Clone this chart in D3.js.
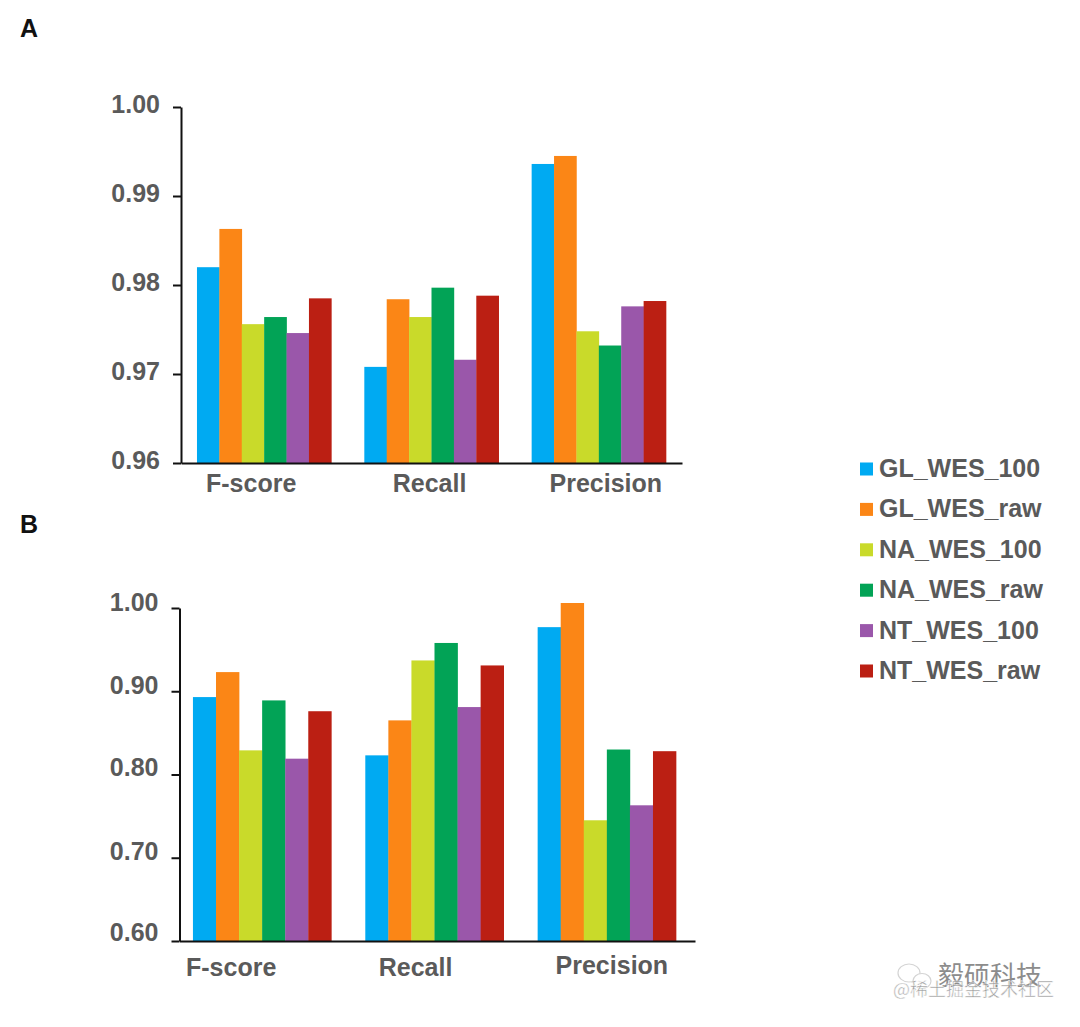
<!DOCTYPE html>
<html>
<head>
<meta charset="utf-8">
<script src="https://cdn.jsdelivr.net/npm/d3@7"></script>
<style>
html, body { margin: 0; padding: 0; background: #fff; }
svg { display: block; }
text { font-family: "Liberation Sans", Arial, sans-serif; font-weight: bold; }
</style>
</head>
<body>
<div id="chart"></div>
<script>
const categories = ['F-score', 'Recall', 'Precision'];
const seriesNames = ['GL_WES_100', 'GL_WES_raw', 'NA_WES_100', 'NA_WES_raw', 'NT_WES_100', 'NT_WES_raw'];
const seriesColors = ['#00aaf2', '#fb8616', '#c9da2a', '#02a356', '#9a57aa', '#bb1f13'];

const ticksA = [0.96, 0.97, 0.98, 0.99, 1.00];
const ticksB = [0.60, 0.70, 0.80, 0.90, 1.00];

const fscoreA = [0.9820, 0.9863, 0.9756, 0.9764, 0.9746, 0.9785];
const recallA = [0.9708, 0.9784, 0.9764, 0.9797, 0.9716, 0.9788];
const precisionA = [0.9936, 0.9945, 0.9748, 0.9732, 0.9776, 0.9782];

const fscoreB = [0.893, 0.923, 0.829, 0.889, 0.819, 0.876];
const recallB = [0.823, 0.865, 0.937, 0.958, 0.881, 0.931];
const precisionB = [0.977, 1.006, 0.745, 0.830, 0.763, 0.828];

const textColor = '#5a5a5a';
const svg = d3.select('#chart').append('svg')
	.attr('width', 1080)
	.attr('height', 1027);

function drawPanel(opt) {
	let g = svg.append('g').attr('class', 'panel');
	let y = d3.scaleLinear().domain(opt.domain).range([opt.bottom, opt.top]);
	let x = d3.scaleBand().domain(categories)
		.range([opt.left, opt.right])
		.paddingInner(0.197)
		.paddingOuter(opt.outer)
		.align(opt.align);
	let x1 = d3.scaleBand().domain(seriesNames).range([0, x.bandwidth()]);

	let groups = g.append('g').attr('class', 'bars')
		.selectAll('g')
		.data(categories)
		.enter().append('g')
		.attr('transform', d => `translate(${x(d)}, 0)`);

	groups.selectAll('rect')
		.data((d, i) => opt.values[i].map((v, j) => ({name: seriesNames[j], value: v})))
		.enter().append('rect')
		.attr('x', d => x1(d.name))
		.attr('y', d => y(d.value))
		.attr('width', x1.bandwidth() + 0.3)
		.attr('height', d => y(opt.domain[0]) - y(d.value))
		.style('fill', d => seriesColors[seriesNames.indexOf(d.name)]);

	let yAxis = g.append('g')
		.attr('class', 'axis y--axis')
		.attr('transform', `translate(${opt.left}, 0)`)
		.call(d3.axisLeft(y).tickValues(opt.ticks).tickFormat(d3.format('.2f')).tickSize(8).tickSizeOuter(0).tickPadding(13));
	yAxis.selectAll('path, line').style('stroke', '#111').style('stroke-width', '2px');
	yAxis.selectAll('text')
		.attr('dy', (d, i) => opt.tickDy[i])
		.style('font-size', '25px')
		.style('fill', textColor);

	let xAxis = g.append('g')
		.attr('class', 'axis x--axis')
		.attr('transform', `translate(0, ${opt.bottom})`)
		.call(d3.axisBottom(x).tickSize(0).tickSizeOuter(0));
	xAxis.select('path').style('stroke', '#111').style('stroke-width', '2px');
	xAxis.selectAll('text')
		.attr('x', (d, i) => opt.labelDx[i])
		.attr('y', (d, i) => opt.labelY[i])
		.attr('dy', 0)
		.style('font-size', '25px')
		.style('fill', textColor);

	svg.append('text')
		.attr('x', 20)
		.attr('y', opt.letterY)
		.text(opt.letter)
		.style('font-size', '25px')
		.style('fill', '#111');
}

drawPanel({
	letter: 'A', letterY: 37,
	domain: [0.96, 1.00], ticks: ticksA,
	values: [fscoreA, recallA, precisionA],
	left: 181, right: 682, top: 107, bottom: 463,
	outer: 0.0955, align: 0.5,
	tickDy: [5, 5, 5, 5, 5],
	labelDx: [-13, -2, 7], labelY: [29, 29, 29]
});

drawPanel({
	letter: 'B', letterY: 533,
	domain: [0.60, 1.00], ticks: ticksB,
	values: [fscoreB, recallB, precisionB],
	left: 179.5, right: 695, top: 608, bottom: 941,
	outer: 0.094, align: 0.415,
	tickDy: [-1, 2, 1, 2, 2],
	labelDx: [-31, -19, 5], labelY: [35, 35, 33]
});

// legend
let legendY = d3.scalePoint().domain(seriesNames).range([469, 671]);
let legend = svg.append('g').attr('class', 'legend')
	.selectAll('g')
	.data(seriesNames)
	.enter().append('g')
	.attr('transform', d => `translate(860, ${legendY(d)})`);
legend.append('rect')
	.attr('y', -6.5)
	.attr('width', 13)
	.attr('height', 13)
	.style('fill', (d, i) => seriesColors[i]);
legend.append('text')
	.attr('x', 19)
	.attr('y', 8)
	.text(d => d)
	.style('font-size', '25px')
	.style('fill', textColor);

// watermark
let mark = svg.append('g').attr('class', 'watermark');
mark.append('ellipse').attr('cx', 909).attr('cy', 973).attr('rx', 11).attr('ry', 9)
	.style('fill', 'none').style('stroke', '#d4d4d4').style('stroke-width', 1.2);
mark.append('ellipse').attr('cx', 922).attr('cy', 981).attr('rx', 9).attr('ry', 7.5)
	.style('fill', '#fff').style('stroke', '#d4d4d4').style('stroke-width', 1.2);
mark.append('text').attr('x', 938).attr('y', 985).text('毅硕科技')
	.style('font-family', '"Noto Sans CJK SC"')
	.style('font-weight', 'normal')
	.style('font-size', '26px')
	.style('fill', '#8c8c8c');
mark.append('text').attr('x', 893).attr('y', 996).text('@稀土掘金技术社区')
	.style('font-family', '"Noto Sans CJK SC"')
	.style('font-weight', 'normal')
	.style('font-size', '18px')
	.style('fill', '#8a8a8a')
	.style('stroke', '#fff')
	.style('stroke-width', 0.5)
	.style('opacity', 0.85);
</script>
</body>
</html>
